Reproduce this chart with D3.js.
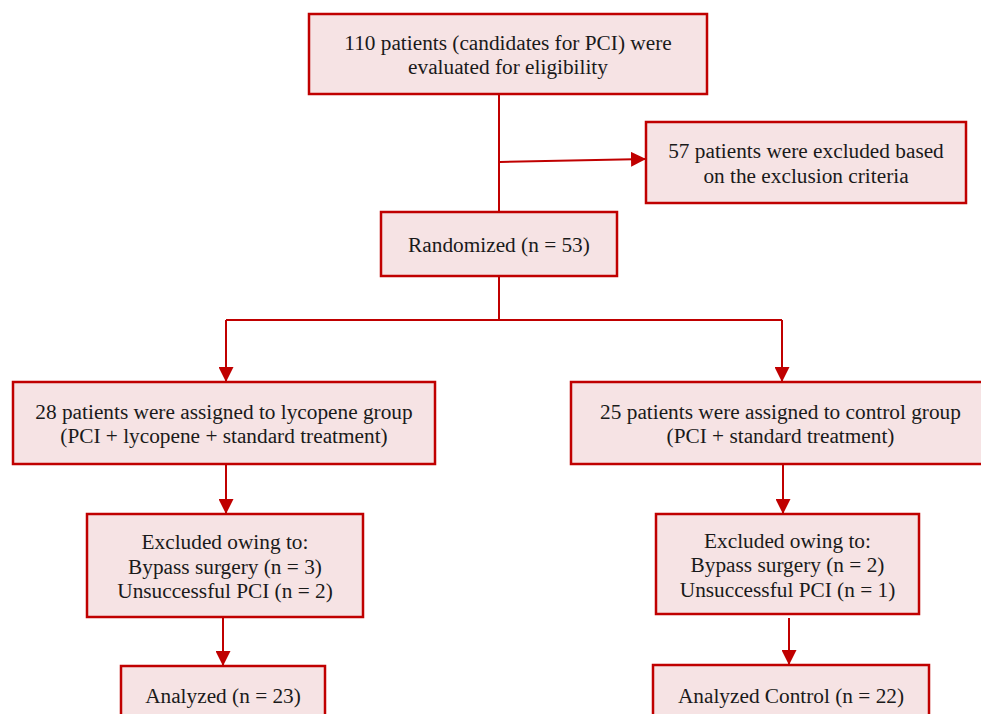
<!DOCTYPE html>
<html>
<head>
<meta charset="utf-8">
<script src="https://cdn.jsdelivr.net/npm/d3@7"></script>
<style>
  body { margin: 0; background: #fff; }
  svg { display: block; }
  svg text { font-family: "Times New Roman", Times, "Liberation Serif", "DejaVu Serif", serif; }
</style>
</head>
<body>
<div id="chart"></div>
<script>
// flow chart content
var stepIds = ["eval", "excl", "rand", "lyco", "ctrl", "lycoEx", "ctrlEx", "lycoAn", "ctrlAn"];
var stepLabels = [
  ["110 patients (candidates for PCI) were", "evaluated for eligibility"],
  ["57 patients were excluded based", "on the exclusion criteria"],
  ["Randomized (n = 53)"],
  ["28 patients were assigned to lycopene group", "(PCI + lycopene + standard treatment)"],
  ["25 patients were assigned to control group", "(PCI + standard treatment)"],
  ["Excluded owing to:", "Bypass surgery (n = 3)", "Unsuccessful PCI (n = 2)"],
  ["Excluded owing to:", "Bypass surgery (n = 2)", "Unsuccessful PCI (n = 1)"],
  ["Analyzed (n = 23)"],
  ["Analyzed Control (n = 22)"]
];
var links = [
  ["eval", "excl"],
  ["rand", "lyco"],
  ["rand", "ctrl"],
  ["lyco", "lycoEx"],
  ["ctrl", "ctrlEx"],
  ["lycoEx", "lycoAn"],
  ["ctrlEx", "ctrlAn"]
];

// layout of the boxes (pixels)
var layout = {
  eval:   {x0: 309, y0: 14,  x1: 707, y1: 94},
  excl:   {x0: 646, y0: 122, x1: 966, y1: 203},
  rand:   {x0: 381, y0: 212, x1: 617, y1: 276},
  lyco:   {x0: 13,  y0: 382, x1: 435, y1: 464},
  ctrl:   {x0: 571, y0: 382, x1: 990, y1: 464},
  lycoEx: {x0: 87,  y0: 514, x1: 363, y1: 617},
  ctrlEx: {x0: 656, y0: 514, x1: 919, y1: 614},
  lycoAn: {x0: 121, y0: 666, x1: 325, y1: 724},
  ctrlAn: {x0: 653, y0: 665, x1: 929, y1: 724}
};

var width = 981, height = 714;
var red = "#c00000", fill = "#f6e3e4";
var fontSize = 21.3, lineH = 24.5;

var svg = d3.select("#chart").append("svg")
  .attr("width", width)
  .attr("height", height);

svg.append("defs").append("marker")
  .attr("id", "arrow")
  .attr("viewBox", "0 0 10 10")
  .attr("refX", 10).attr("refY", 5)
  .attr("markerWidth", 7.5).attr("markerHeight", 7.5)
  .attr("markerUnits", "strokeWidth")
  .attr("orient", "auto")
  .append("path")
  .attr("d", "M0,0L10,5L0,10Z")
  .attr("fill", red);

var nodes = stepIds.map(function(id, i) {
  var b = layout[id];
  return {id: id, lines: stepLabels[i], x0: b.x0, y0: b.y0, x1: b.x1, y1: b.y1,
          cx: (b.x0 + b.x1) / 2, cy: (b.y0 + b.y1) / 2};
});
var byId = {};
nodes.forEach(function(n) { byId[n.id] = n; });

// connectors
var line = d3.line();
var evalN = byId.eval, randN = byId.rand;
var trunkX = 499;

// eval -> rand (plain line)
svg.append("path")
  .attr("d", line([[trunkX, evalN.y1], [trunkX, randN.y0]]))
  .attr("fill", "none").attr("stroke", red).attr("stroke-width", 2);

// side branch to the excluded box
var exclN = byId.excl;
svg.append("path")
  .attr("d", line([[trunkX + 1, 162], [exclN.x0, 159]]))
  .attr("fill", "none").attr("stroke", red).attr("stroke-width", 2)
  .attr("marker-end", "url(#arrow)");

// split from randomized into two arms
var splitY = 320;
var armX = {lyco: 226, ctrl: 782};
svg.append("path")
  .attr("d", line([[trunkX, randN.y1], [trunkX, splitY]]))
  .attr("fill", "none").attr("stroke", red).attr("stroke-width", 2);
svg.append("path")
  .attr("d", line([[armX.lyco, splitY], [armX.ctrl, splitY]]))
  .attr("fill", "none").attr("stroke", red).attr("stroke-width", 2);

var armTop = [["lyco", armX.lyco], ["ctrl", armX.ctrl]];
svg.selectAll(".arm")
  .data(armTop)
  .enter()
  .append("path")
  .attr("class", "arm")
  .attr("d", function(d) { return line([[d[1], splitY], [d[1], byId[d[0]].y0]]); })
  .attr("fill", "none").attr("stroke", red).attr("stroke-width", 2)
  .attr("marker-end", "url(#arrow)");

// vertical arrows down each arm
var downX = {lycoEx: 226, ctrlEx: 783, lycoAn: 223, ctrlAn: 789};
var downLinks = links.slice(3);
svg.selectAll(".down")
  .data(downLinks)
  .enter()
  .append("path")
  .attr("class", "down")
  .attr("d", function(d) {
    var x = downX[d[1]];
    var y0 = byId[d[0]].y1 + (d[0] === "ctrlEx" ? 4 : 0);
    return line([[x, y0], [x, byId[d[1]].y0]]);
  })
  .attr("fill", "none").attr("stroke", red).attr("stroke-width", 2)
  .attr("marker-end", "url(#arrow)");

// boxes
var box = svg.selectAll(".box")
  .data(nodes)
  .enter()
  .append("g")
  .attr("class", "box");

box.append("rect")
  .attr("x", function(d) { return d.x0; })
  .attr("y", function(d) { return d.y0; })
  .attr("width", function(d) { return d.x1 - d.x0; })
  .attr("height", function(d) { return d.y1 - d.y0; })
  .attr("fill", fill)
  .attr("stroke", red)
  .attr("stroke-width", 2.5);

box.each(function(d) {
  var g = d3.select(this);
  var n = d.lines.length;
  g.selectAll("text")
    .data(d.lines)
    .enter()
    .append("text")
    .attr("x", d.cx)
    .attr("y", function(t, i) { return d.cy + (i - (n - 1) / 2) * lineH + fontSize * 0.38; })
    .attr("text-anchor", "middle")
    .attr("font-size", fontSize)
    .attr("fill", "#1a1a1a")
    .text(function(t) { return t; });
});
</script>
</body>
</html>
